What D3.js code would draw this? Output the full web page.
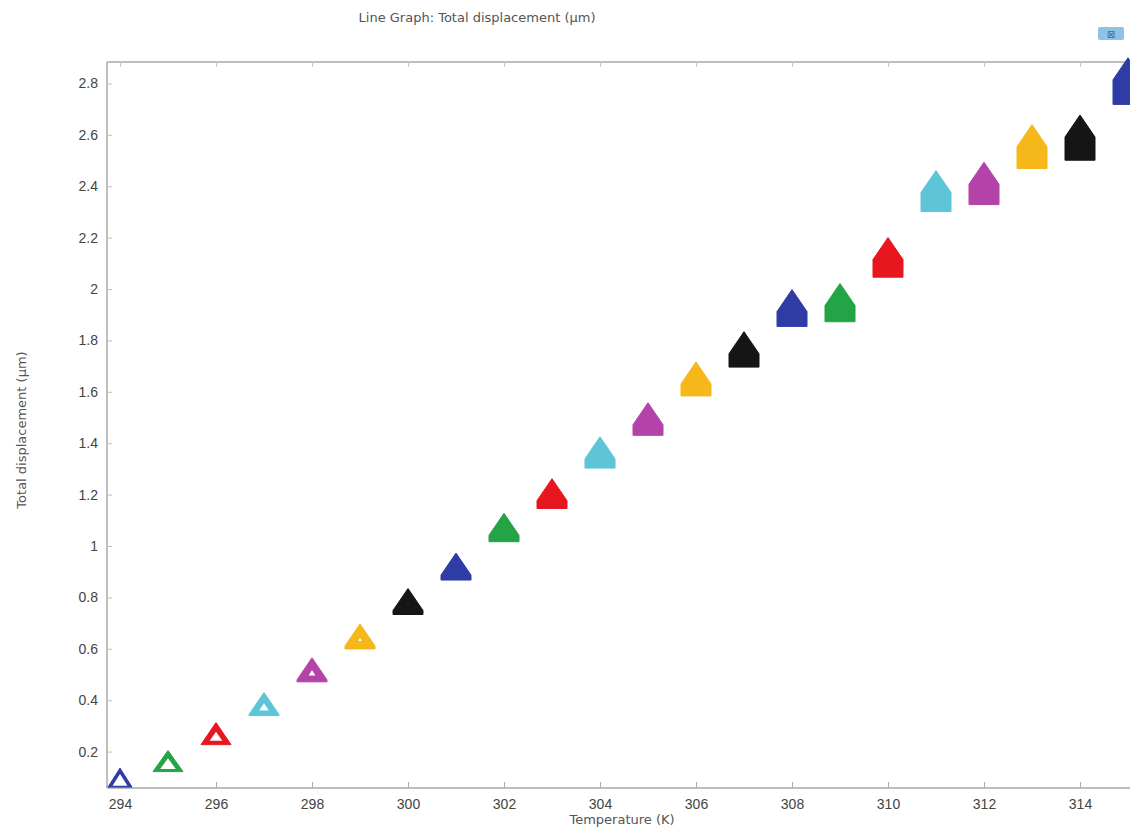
<!DOCTYPE html>
<html>
<head>
<meta charset="utf-8">
<script src="https://cdn.jsdelivr.net/npm/d3@7"></script>
<style>
  body { margin: 0; background: #fff; }
  svg { display: block; font-family: "DejaVu Sans", sans-serif; }
</style>
</head>
<body>
<svg id="chart"></svg>
<script>
// data
const temperatures = [294, 295, 296, 297, 298, 299, 300, 301, 302, 303, 304,
                      305, 306, 307, 308, 309, 310, 311, 312, 313, 314, 315];
const displacement = [0.099, 0.163, 0.270, 0.385, 0.518, 0.648, 0.784, 0.920, 1.072, 1.204, 1.364,
                      1.494, 1.650, 1.765, 1.926, 1.947, 2.123, 2.381, 2.411, 2.554, 2.589, 2.809];
const xTicks = [294, 296, 298, 300, 302, 304, 306, 308, 310, 312, 314];
const yTicks = [0.2, 0.4, 0.6, 0.8, 1, 1.2, 1.4, 1.6, 1.8, 2, 2.2, 2.4, 2.6, 2.8];
const seriesColors = ["#2f3ca6", "#22a447", "#e8161f", "#5ec5d8", "#b343a9", "#f6b71b", "#151515"];

const width = 1130;
const height = 827;
const margin = { top: 62, right: -10, bottom: 39, left: 107 };

const svg = d3.select("#chart")
    .attr("width", width)
    .attr("height", height);

const x = d3.scaleLinear()
    .domain([294 - 13 / 48, 294 + (width - margin.right - 120) / 48])
    .range([margin.left, width - margin.right]);

const y = d3.scaleLinear()
    .domain([(803 - (height - margin.bottom)) / 257, (803 - margin.top) / 257])
    .range([height - margin.bottom, margin.top]);

const x0 = margin.left, x1 = width - margin.right;
const y0 = height - margin.bottom, y1 = margin.top;

// title
svg.append("text")
    .attr("x", 477)
    .attr("y", 22)
    .attr("text-anchor", "middle")
    .style("font-size", "13px")
    .style("fill", "#555")
    .text("Line Graph: Total displacement (µm)");

// little toolbar icon, top right
svg.append("rect")
    .attr("x", 1098).attr("y", 27)
    .attr("width", 26).attr("height", 13)
    .attr("rx", 2)
    .attr("fill", "#8fc3e6");
svg.append("text")
    .attr("x", 1111).attr("y", 38)
    .attr("text-anchor", "middle")
    .style("font-size", "10px")
    .style("fill", "#3d6e9a")
    .text("⊠");

// frame
const frame = svg.append("g")
    .attr("stroke", "#a8a8a8")
    .attr("stroke-width", 1.5)
    .attr("fill", "none");
frame.append("line").attr("x1", x0).attr("x2", x0).attr("y1", y1).attr("y2", y0);
frame.append("line").attr("x1", x0).attr("x2", x1).attr("y1", y1).attr("y2", y1);
frame.append("line").attr("x1", x0).attr("x2", x1).attr("y1", y0).attr("y2", y0);

// x axis (ticks pointing into the plot)
const xAxis = svg.append("g")
    .attr("transform", `translate(0, ${y0})`)
    .call(d3.axisBottom(x).tickValues(xTicks).tickSize(-6).tickPadding(11).tickFormat(d3.format("d")));
xAxis.select(".domain").remove();
xAxis.selectAll("line").attr("stroke", "#b0b0b0");
xAxis.selectAll("text").style("font-size", "14px").style("fill", "#444");

const xTop = svg.append("g")
    .attr("transform", `translate(0, ${y1})`)
    .call(d3.axisTop(x).tickValues(xTicks).tickSize(-5).tickFormat(""));
xTop.select(".domain").remove();
xTop.selectAll("line").attr("stroke", "#c8c8c8");

// y axis
const yAxis = svg.append("g")
    .attr("transform", `translate(${x0}, 0)`)
    .call(d3.axisLeft(y).tickValues(yTicks).tickSize(-5).tickPadding(9).tickFormat(d3.format("~g")));
yAxis.select(".domain").remove();
yAxis.selectAll("line").attr("stroke", "#c0c0c0");
yAxis.selectAll("text").style("font-size", "14px").style("fill", "#444");

// axis titles
svg.append("text")
    .attr("x", 622)
    .attr("y", 824)
    .attr("text-anchor", "middle")
    .style("font-size", "13px")
    .style("fill", "#555")
    .text("Temperature (K)");

svg.append("text")
    .attr("transform", "rotate(-90)")
    .attr("x", -430)
    .attr("y", 26)
    .attr("text-anchor", "middle")
    .style("font-size", "13px")
    .style("fill", "#555")
    .text("Total displacement (µm)");

// markers: a triangle that gets stacked taller and filled further along the series
const points = temperatures.map((t, i) => ({ t, v: displacement[i], i }));
const markerW = 30;
const triH = 22;

function markerPath(cx, cy, w, h) {
    // h > triH: triangle on top of a rectangle
    const top = cy - h / 2, bot = cy + h / 2;
    const shoulder = top + triH;
    if (h <= triH + 0.5) {
        return `M${cx},${top}L${cx + w / 2},${bot}L${cx - w / 2},${bot}Z`;
    }
    return `M${cx},${top}L${cx + w / 2},${shoulder}L${cx + w / 2},${bot}L${cx - w / 2},${bot}L${cx - w / 2},${shoulder}Z`;
}

const markerH = i => i < 8 ? 20 + i : 27 + (i - 7) * 1.4;
const holeScale = i => Math.max(0, 0.62 - i * 0.1);

const marks = svg.append("g").selectAll("g.mark")
    .data(points)
    .enter().append("g")
    .attr("class", "mark");

marks.append("path")
    .attr("d", d => {
        const w = d.i === 0 ? 24 : markerW;
        const h = d.i === 0 ? 19 : markerH(d.i);
        return markerPath(x(d.t), y(d.v), w, h);
    })
    .attr("fill", d => seriesColors[d.i % seriesColors.length])
    .attr("stroke", d => seriesColors[d.i % seriesColors.length])
    .attr("stroke-width", 1)
    .attr("stroke-linejoin", "round");

// the hollow centre of the early markers
marks.filter(d => holeScale(d.i) > 0)
    .append("path")
    .attr("d", d => {
        const w = (d.i === 0 ? 24 : markerW) * holeScale(d.i);
        const h = (d.i === 0 ? 19 : markerH(d.i)) * holeScale(d.i);
        const cy = y(d.v) + (d.i === 0 ? 19 : markerH(d.i)) * 0.12;
        return markerPath(x(d.t), cy, w, Math.min(h, triH));
    })
    .attr("fill", "#fff");
</script>
</body>
</html>
